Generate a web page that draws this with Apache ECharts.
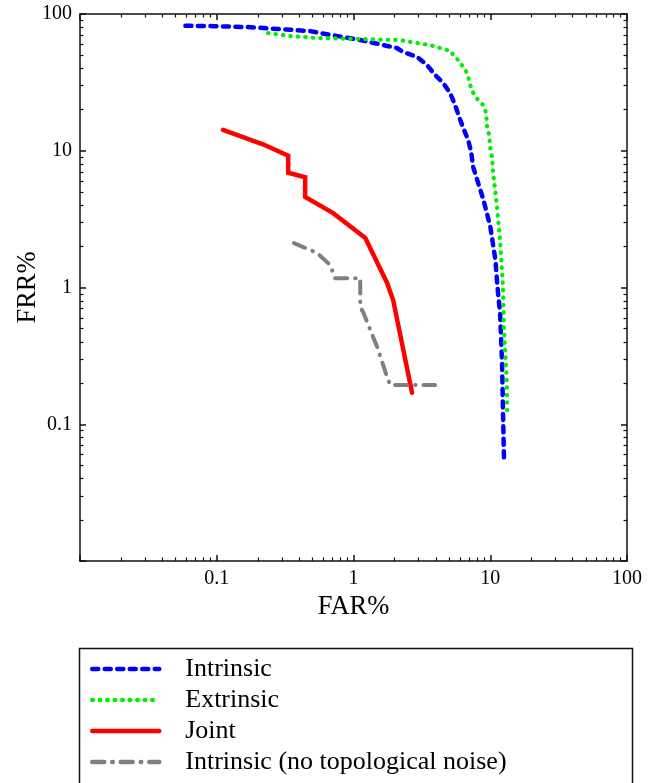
<!DOCTYPE html>
<html>
<head>
<meta charset="utf-8">
<script src="https://cdn.jsdelivr.net/npm/echarts@6/dist/echarts.min.js"></script>
<style>
html,body{margin:0;padding:0;background:#fff;}
#chart{width:650px;height:783px;}
</style>
</head>
<body>
<div id="chart"></div>
<script>
// ---- data (FAR%, FRR%) ----
const seriesNames = ['Intrinsic', 'Extrinsic', 'Joint', 'Intrinsic (no topological noise)'];
const intrinsic = [[0.059,82],[0.094,81.5],[0.167,80.3],[0.28,77.7],[0.48,75],[0.62,71.5],[1.12,64.5],[2.08,56.4],[2.31,52.7],[2.92,48.5],[3.45,42.4],[3.95,35.8],[4.52,31.3],[5.09,26.4],[5.53,21.6],[5.92,17.7],[6.34,14.7],[6.89,12],[7.25,9.8],[7.5,7.6],[8.9,4.4],[10,2.8],[10.9,1.6],[11.3,1.0],[11.8,0.65],[12.2,0.28],[12.4,0.12],[12.6,0.057]];
const extrinsic = [[0.237,72.6],[0.344,69],[0.542,66.7],[1.12,65.6],[2.19,64.5],[2.82,61.6],[3.63,59.3],[4.52,55.5],[5.17,53.6],[5.35,50.1],[5.92,45.3],[6.34,40.9],[6.78,37],[7.01,32.4],[7.25,28.8],[7.62,25.6],[8.16,23.5],[8.87,21.6],[9.33,18.9],[9.49,14.9],[9.82,13],[10,10.5],[10.3,9],[10.5,6.9],[11.2,3.9],[11.8,2.2],[12.4,1.0],[12.6,0.49],[13.2,0.21],[13.3,0.113]];
const joint = [[0.111,14.2],[0.22,11.1],[0.333,9.2],[0.333,6.9],[0.443,6.4],[0.443,4.6],[0.71,3.5],[1.22,2.3],[1.76,1.08],[1.95,0.81],[2.68,0.17]];
const noTopoNoise = [[0.367,2.11],[0.443,1.95],[0.542,1.79],[0.675,1.46],[0.733,1.17],[1.12,1.17],[1.12,0.72],[1.175,0.662],[1.49,0.367],[1.76,0.222],[1.85,0.194],[3.95,0.194]];
const tickValues = [0.1, 1, 10, 100];
const tickLabels = ['0.1', '1', '10', '100'];
const axisMin = 0.01, axisMax = 100;

const FONT = 'Liberation Serif';
function fmt(v) {
  const i = tickValues.findIndex(t => Math.abs(Math.log10(t) - Math.log10(v)) < 1e-6);
  return i >= 0 ? tickLabels[i] : '';
}
function logAxis(extra) {
  return Object.assign({
    type: 'log', logBase: 10, min: axisMin, max: axisMax,
    axisLine: { show: true, onZero: false, lineStyle: { color: '#111', width: 1.5 } },
    axisTick: { show: true, inside: true, length: 6, lineStyle: { color: '#111', width: 1.5 } },
    minorTick: { show: true, splitNumber: 9, length: 3.5, lineStyle: { color: '#111', width: 1.2 } },
    splitLine: { show: false },
    minorSplitLine: { show: false },
    axisLabel: { show: true, formatter: fmt, fontFamily: FONT, fontSize: 20, color: '#000', margin: 8 },
    nameTextStyle: { fontFamily: FONT, fontSize: 26.5, color: '#000' },
    nameMoveOverlap: false
  }, extra);
}

const chart = echarts.init(document.getElementById('chart'), null, { renderer: 'canvas' });
const option = {
  animation: false,
  backgroundColor: '#fff',
  grid: { left: 80, top: 14, right: 23, bottom: 222, containLabel: false, outerBoundsMode: 'none' },
  xAxis: [
    logAxis({ position: 'bottom', name: 'FAR%', nameLocation: 'middle', nameGap: 33 }),
    logAxis({ position: 'top', axisLabel: { show: false } })
  ],
  yAxis: [
    logAxis({ position: 'left', name: 'FRR%', nameLocation: 'middle', nameGap: 38, nameRotate: 90 }),
    logAxis({ position: 'right', axisLabel: { show: false } })
  ],
  legend: {
    orient: 'vertical', left: 77, top: 646, padding: [10, 10, 0, 13],
    itemWidth: 67, itemHeight: 14, itemGap: 5,
    itemStyle: { opacity: 0 },
    lineStyle: { width: 4.5 },
    textStyle: { fontFamily: FONT, fontSize: 26, color: '#000', lineHeight: 24, padding: [0, 0, 0, 21] },
    data: seriesNames
  },
  graphic: [{
    type: 'rect', left: 77, top: 646, silent: true,
    shape: { width: 553, height: 160 },
    style: { fill: 'none', stroke: '#111', lineWidth: 1.5 }
  }],
  series: [
    { name: seriesNames[0], type: 'line', data: intrinsic, symbol: 'none', showSymbol: false,
      itemStyle: { color: '#0000ff' },
      lineStyle: { color: '#0000ff', width: 4.5, type: [6, 6.5], cap: 'round', join: 'round' } },
    { name: seriesNames[1], type: 'line', data: extrinsic, symbol: 'none', showSymbol: false,
      itemStyle: { color: '#00ee00' },
      lineStyle: { color: '#00ee00', width: 4.2, type: [0.5, 7], cap: 'round', join: 'round' } },
    { name: seriesNames[2], type: 'line', data: joint, symbol: 'none', showSymbol: false,
      itemStyle: { color: '#ff0000' },
      lineStyle: { color: '#ff0000', width: 4.5, type: 'solid', cap: 'round', join: 'miter' } },
    { name: seriesNames[3], type: 'line', data: noTopoNoise, symbol: 'none', showSymbol: false,
      itemStyle: { color: '#808080' },
      lineStyle: { color: '#808080', width: 4, type: [12, 8, 0.5, 8], cap: 'round', join: 'round' } }
  ]
};
chart.setOption(option);
</script>
</body>
</html>
